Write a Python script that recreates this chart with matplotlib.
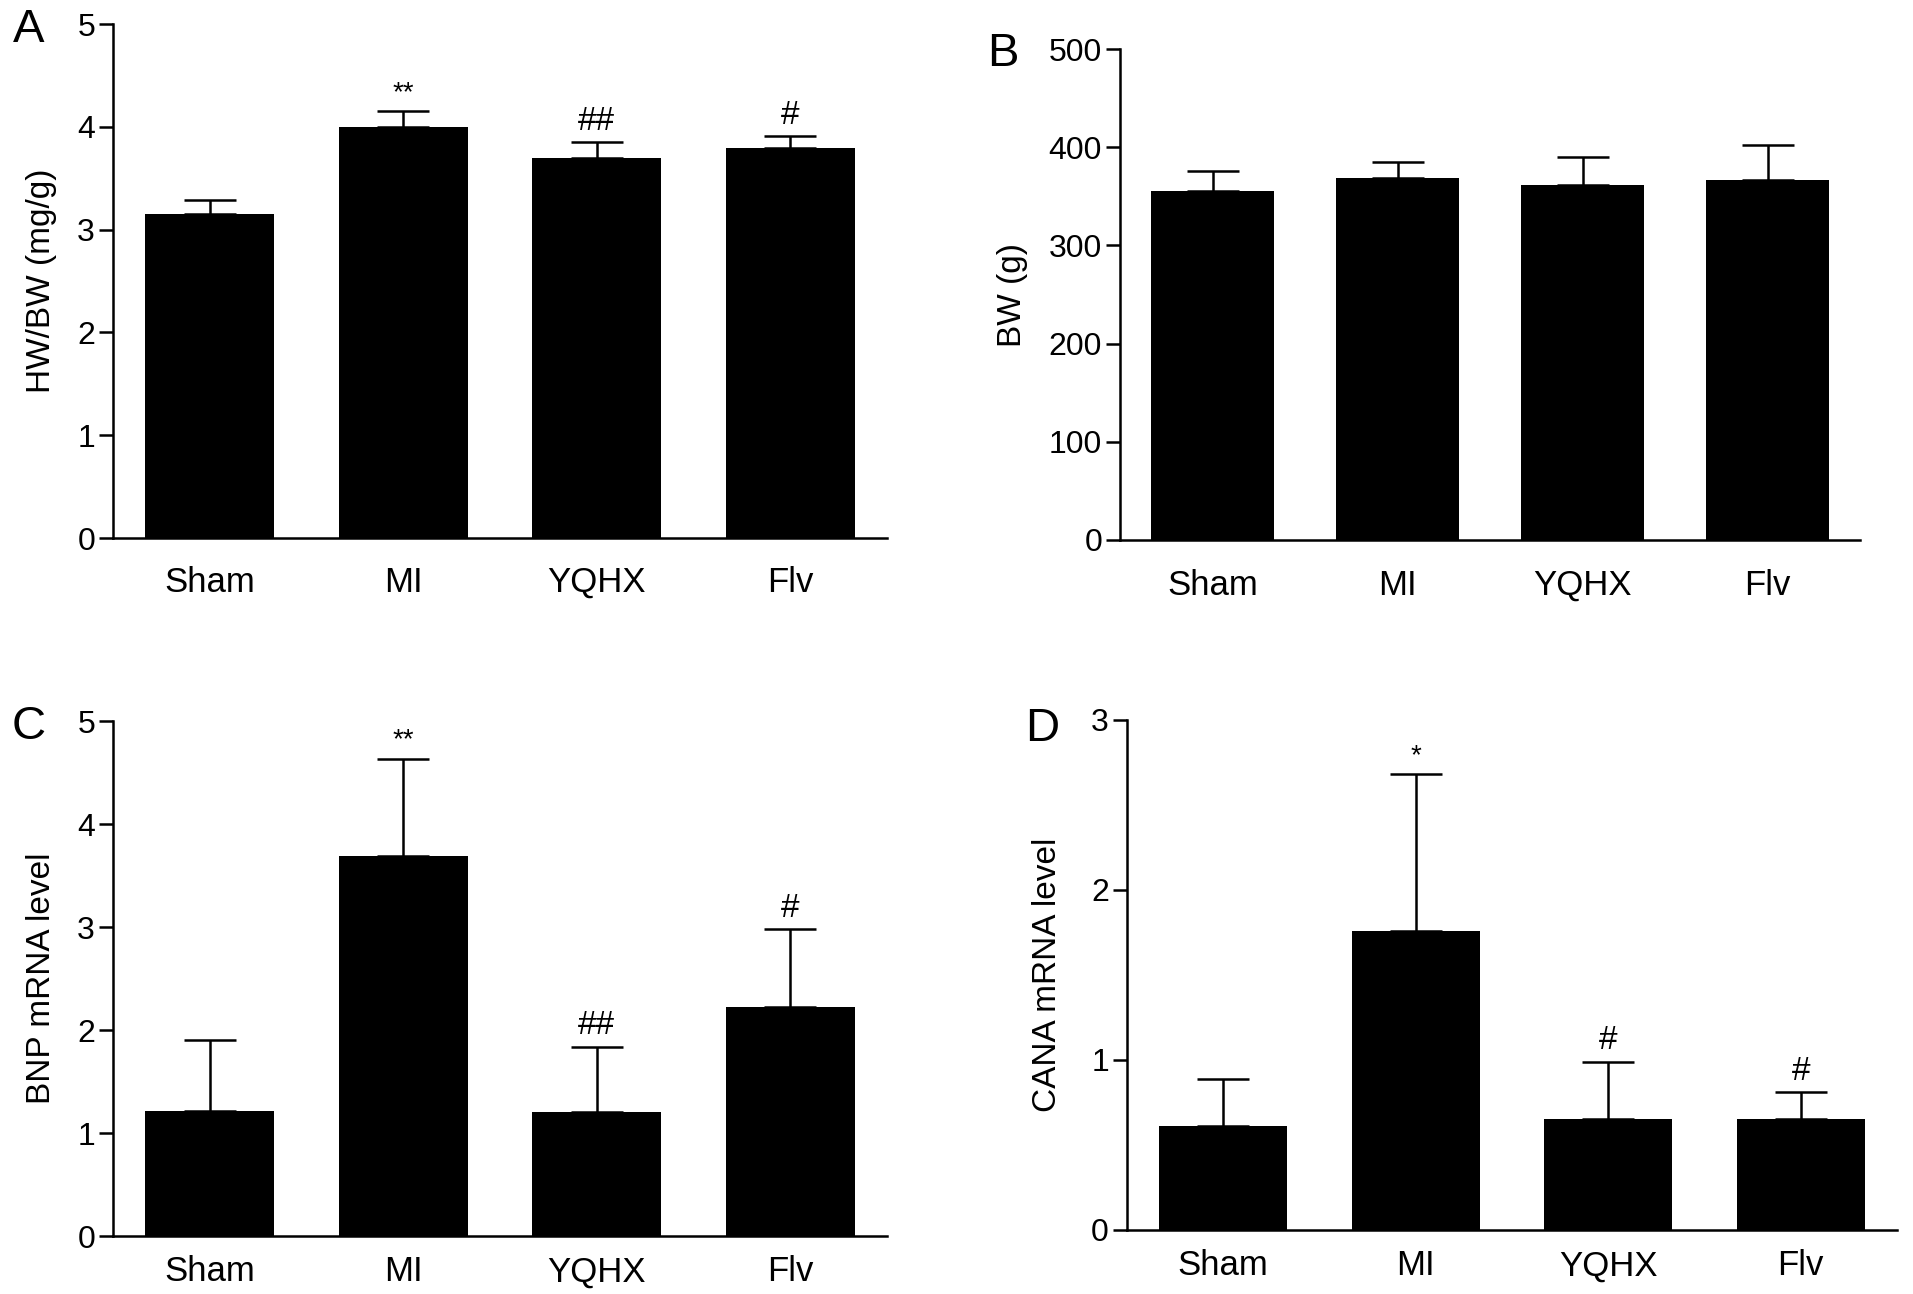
import matplotlib
matplotlib.use('Agg')
import matplotlib.pyplot as plt
import numpy as np

plt.rcParams['font.family'] = ['Liberation Sans', 'DejaVu Sans']

groups = ['Sham', 'MI', 'YQHX', 'Flv']

# Panel A - HW/BW ratio
hw_bw = [3.15, 4.00, 3.70, 3.79]
hw_bw_err = [0.14, 0.15, 0.15, 0.12]
hw_bw_sig = ['', '**', '##', '#']

# Panel B - body weight
bw = [355, 369, 362, 367]
bw_err = [21, 16, 28, 35]
bw_sig = ['', '', '', '']

# Panel C - BNP mRNA
bnp = [1.21, 3.69, 1.20, 2.22]
bnp_err = [0.69, 0.94, 0.64, 0.76]
bnp_sig = ['', '**', '##', '#']

# Panel D - CANA mRNA
cana = [0.61, 1.76, 0.65, 0.65]
cana_err = [0.28, 0.92, 0.34, 0.16]
cana_sig = ['', '*', '#', '#']

fig = plt.figure(figsize=(19.13, 12.94), dpi=100)

panels = [
    # rect, values, errors, marks, ylabel, ymax, yticks, letter, letter pos, label x, tick pad
    ([0.0591, 0.5842, 0.4046, 0.3972], hw_bw, hw_bw_err, hw_bw_sig, 'HW/BW (mg/g)', 5, range(0, 6), 'A', (0.015, 0.977), -0.072, 20),
    ([0.5855, 0.5827, 0.3868, 0.3794], bw, bw_err, bw_sig, 'BW (g)', 500, range(0, 501, 100), 'B', (0.524, 0.958), -0.125, 21),
    ([0.0591, 0.0448, 0.4046, 0.3980], bnp, bnp_err, bnp_sig, 'BNP mRNA level', 5, range(0, 6), 'C', (0.015, 0.438), -0.072, 14),
    ([0.5891, 0.0495, 0.4025, 0.3941], cana, cana_err, cana_sig, 'CANA mRNA level', 3, range(0, 4), 'D', (0.545, 0.437), -0.083, 14),
]

x = np.arange(len(groups))
for rect, vals, errs, sig, ylab, ymax, yt, letter, lpos, labx, pad in panels:
    ax = fig.add_axes(rect)
    ax.bar(x, vals, width=0.665, color='black', zorder=2)
    ax.errorbar(x, vals, yerr=[np.zeros(len(vals)), errs], fmt='none',
                ecolor='black', elinewidth=1.8, capsize=19, capthick=1.8, zorder=1)
    for xi, v, e, s in zip(x, vals, errs, sig):
        if s:
            fs = 20 if '*' in s else 24
            ax.annotate(s, (xi, v + e), xytext=(0, 4), textcoords='offset points',
                        ha='center', va='bottom', fontsize=fs)
    ax.set_xlim(-0.5, 3.5)
    ax.set_ylim(0, ymax)
    ax.set_yticks(list(yt))
    ax.set_xticks(x)
    ax.set_xticklabels(groups)
    ax.tick_params(axis='x', length=0, pad=pad, labelsize=25)
    ax.tick_params(axis='y', length=10, width=1.8, pad=3, labelsize=23)
    for side in ['top', 'right']:
        ax.spines[side].set_visible(False)
    ax.spines['left'].set_linewidth(1.8)
    ax.spines['bottom'].set_linewidth(1.8)
    ax.set_ylabel(ylab, fontsize=24)
    ax.yaxis.set_label_coords(labx, 0.5)
    fig.text(lpos[0], lpos[1], letter, fontsize=34, ha='center', va='center')

fig.savefig('out.png', dpi=100)
